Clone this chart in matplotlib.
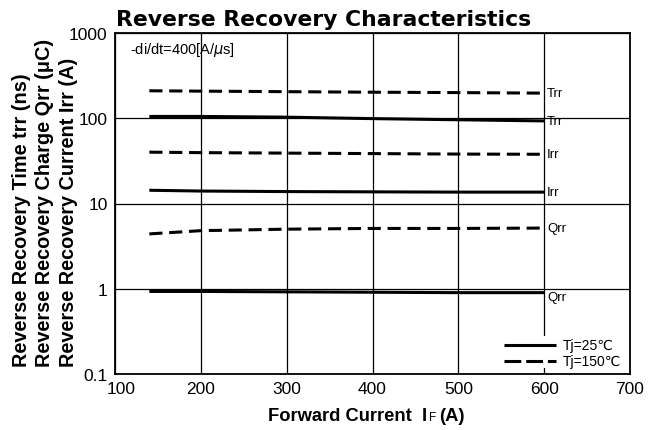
import matplotlib
matplotlib.use("Agg")
import matplotlib.pyplot as plt
from matplotlib.transforms import ScaledTranslation
from matplotlib.patches import Rectangle

plt.rcParams['font.family'] = ['Liberation Sans', 'DejaVu Sans']

# ---- Data ----
current = [140, 200, 300, 400, 500, 600]
trr_25 = [105, 105, 103, 99, 96, 93]
trr_150 = [210, 208, 205, 202, 200, 197]
irr_25 = [14.3, 14.0, 13.8, 13.7, 13.6, 13.6]
irr_150 = [40, 39.5, 39, 38.5, 38, 37.8]
qrr_25 = [0.93, 0.93, 0.92, 0.91, 0.90, 0.90]
qrr_150 = [4.4, 4.8, 5.0, 5.1, 5.1, 5.15]

series_labels = ['Trr', 'Trr', 'Irr', 'Irr', 'Qrr', 'Qrr']
legend_labels = ['Tj=25℃', 'Tj=150℃']

x_ticks = [100, 200, 300, 400, 500, 600, 700]
y_ticks = [0.1, 1, 10, 100, 1000]
y_ticklabels = ['0.1', '1', '10', '100', '1000']

W, H = 658, 431
fig = plt.figure(figsize=(W / 100, H / 100), dpi=100)
ax = fig.add_axes([115 / W, 1 - 375 / H, 515 / W, 341 / H])

ax.set_yscale('log')
ax.set_xlim(100, 700)
ax.set_ylim(0.1, 1000)

DASH = (0, (4.3, 2.2))
LW = 2.2
series = [(trr_150, DASH, 0), (trr_25, '-', 0), (irr_150, DASH, 0),
          (irr_25, '-', 0), (qrr_150, DASH, 0), (qrr_25, '-', -3)]
for (y, ls, dy), lab in zip(series, series_labels):
    ax.plot(current, y, color='black', lw=LW, linestyle=ls, zorder=3,
            solid_capstyle='butt', dash_capstyle='butt')
    ax.annotate(lab, xy=(current[-1], y[-1]), xytext=(2, dy),
                textcoords='offset points', fontsize=9.5, va='center',
                ha='left', zorder=4)

ax.set_xticks(x_ticks)
ax.set_xticklabels([str(v) for v in x_ticks], fontsize=12.5)
ax.set_yticks(y_ticks)
ax.set_yticklabels(y_ticklabels, fontsize=12.5)
ax.yaxis.set_minor_locator(matplotlib.ticker.NullLocator())
ax.tick_params(axis='x', length=0, pad=4.8)
ax.tick_params(axis='y', length=0, pad=5.4)
# first x tick label sits slightly right (as in the reference, clear of "0.1")
lbl0 = ax.get_xticklabels()[0]
lbl0.set_transform(lbl0.get_transform() + ScaledTranslation(6 / 100, 0, fig.dpi_scale_trans))

ax.grid(True, which='major', color='black', lw=0.9)
for s in ax.spines.values():
    s.set_linewidth(1.3)

fig.text(130 / W, 1 - 50 / H, '-di/dt=400[A/$\\mu$s]', fontsize=10.5,
         va='center', ha='left')

# ---- legend (manual, as in the reference, white box hides grid) ----
ax.add_patch(Rectangle((548, 0.117), 147, 0.279 - 0.117, facecolor='white',
                       edgecolor='none', zorder=2))
leg_y = [0.219, 0.142]
leg_x = [553, 614]
ax.plot(leg_x, [leg_y[0]] * 2, color='black', lw=LW, solid_capstyle='butt', zorder=3)
ax.plot(leg_x, [leg_y[1]] * 2, color='black', lw=LW, linestyle=(0, (5.5, 1.6)),
        dash_capstyle='butt', zorder=3)
for yv, t in zip(leg_y, legend_labels):
    ax.text(622, yv, t, fontsize=10, va='center', ha='left', zorder=4)

# ---- title ----
renderer = fig.canvas.get_renderer()
title = fig.text(116 / W, 1 - 26 / H, 'Reverse Recovery Characteristics',
                 fontsize=16, fontweight='bold', family='DejaVu Sans',
                 va='baseline', ha='left')
bb = title.get_window_extent(renderer)
title.set_fontsize(16 * 414 / bb.width)

# ---- x label (I with small F) ----
xb = 1 - 421 / H
t1 = fig.text(268 / W, xb, 'Forward Current  I', fontsize=13.2,
              fontweight='bold', va='baseline', ha='left')
b1 = t1.get_window_extent(renderer)
t2 = fig.text((b1.x1 + 1.5) / W, xb, 'F', fontsize=8.5, va='baseline', ha='left')
b2 = t2.get_window_extent(renderer)
fig.text((b2.x1 + 3) / W, xb, '(A)', fontsize=13.2, fontweight='bold',
         va='baseline', ha='left')

# ---- y labels (three lines, rotated) ----
ylabels = ['Reverse Recovery Time trr (ns)',
           'Reverse Recovery Charge Qrr (μC)',
           'Reverse Recovery Current Irr (A)']
for xpos, txt in zip([27, 50, 74], ylabels):
    fig.text(xpos / W, 1 - 367 / H, txt, rotation=90, rotation_mode='anchor',
             fontsize=14.3, fontweight='bold', va='baseline', ha='left')

fig.savefig('out.png', dpi=100)
